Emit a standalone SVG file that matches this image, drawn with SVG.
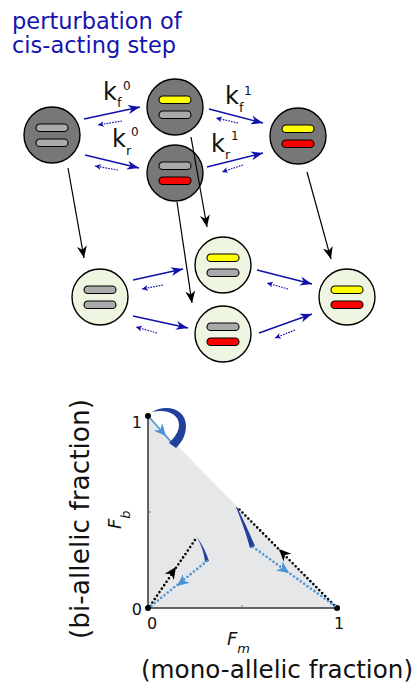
<svg xmlns="http://www.w3.org/2000/svg" width="418" height="690" viewBox="0 0 418 690">
  <style>
    .title { font-family: "DejaVu Sans", sans-serif; font-size: 22.5px; fill: #1414b0; }
    .lbl { font-family: "DejaVu Sans", sans-serif; fill: #111; }
    .dark { fill: #777777; stroke: #000; stroke-width: 1.4; }
    .light { fill: #eef6e1; stroke: #000; stroke-width: 1.4; }
    .bar { stroke: #000; stroke-width: 1.1; }
    .gray { fill: #aaaaaa; }
    .yel { fill: #ffff00; }
    .red { fill: #ff0000; }
    .fw { fill: none; stroke: #1111aa; stroke-width: 1.5; marker-end: url(#ahBlue); }
    .bk { fill: none; stroke: #1111aa; stroke-width: 1.2; stroke-dasharray: 1.6 1.2; marker-end: url(#ahBlueSmall); }
    .down { fill: none; stroke: #000; stroke-width: 1.2; marker-end: url(#ahBlack); }
    .axis { fill: none; stroke: #333; stroke-width: 1.5; }
    .dotK { fill: none; stroke: #000; stroke-width: 2.6; stroke-linecap: round; stroke-dasharray: 0 4.2; }
    .dotB { fill: none; stroke: #4a93d6; stroke-width: 2.6; stroke-linecap: round; stroke-dasharray: 0 4.2; }
    .num { font-family: "DejaVu Sans", sans-serif; font-size: 16px; fill: #111; }
  </style>
  <defs>
    <marker id="ahBlue" markerUnits="userSpaceOnUse" markerWidth="13" markerHeight="10" refX="12" refY="4.5" orient="auto">
      <path d="M0,0 L12,4.5 L0,9 L3.5,4.5 z" fill="#1111aa"/>
    </marker>
    <marker id="ahBlueSmall" markerUnits="userSpaceOnUse" markerWidth="7" markerHeight="7" refX="6" refY="3" orient="auto">
      <path d="M0,0 L6,3 L0,6 L1.8,3 z" fill="#1111aa"/>
    </marker>
    <marker id="ahBlack" markerUnits="userSpaceOnUse" markerWidth="13" markerHeight="11" refX="12" refY="5" orient="auto">
      <path d="M0,0 L12,5 L0,10 L3.5,5 z" fill="#000"/>
    </marker>
    <path id="headK" d="M0,0 L-12,-5.5 L-8.5,0 L-12,5.5 z" fill="#000"/>
    <path id="headB" d="M0,0 L-12,-5.5 L-8.5,0 L-12,5.5 z" fill="#4a93d6"/>
    <rect id="barShape" x="-16" y="0" width="32" height="7.5" rx="3.75"/>
  </defs>

  <!-- heading -->
  <text class="title" x="12" y="29">perturbation of</text>
  <text class="title" x="12" y="53">cis-acting step</text>

  <!-- states before the perturbation (dark) -->
  <g id="node-A">
    <circle class="dark" cx="52" cy="135" r="28"/>
    <use href="#barShape" class="bar gray" x="52" y="124"/>
    <use href="#barShape" class="bar gray" x="52" y="139"/>
  </g>
  <g id="node-B">
    <circle class="dark" cx="175" cy="107" r="28"/>
    <use href="#barShape" class="bar yel" x="175" y="96"/>
    <use href="#barShape" class="bar gray" x="175" y="111"/>
  </g>
  <g id="node-C">
    <circle class="dark" cx="175" cy="173" r="28"/>
    <use href="#barShape" class="bar gray" x="175" y="162"/>
    <use href="#barShape" class="bar red" x="175" y="177"/>
  </g>
  <g id="node-D">
    <circle class="dark" cx="298" cy="136" r="28"/>
    <use href="#barShape" class="bar yel" x="298" y="125"/>
    <use href="#barShape" class="bar red" x="298" y="140"/>
  </g>

  <!-- states after the perturbation (light) -->
  <g id="node-E">
    <circle class="light" cx="100" cy="297" r="28"/>
    <use href="#barShape" class="bar gray" x="100" y="286"/>
    <use href="#barShape" class="bar gray" x="100" y="301"/>
  </g>
  <g id="node-F">
    <circle class="light" cx="223" cy="265" r="28"/>
    <use href="#barShape" class="bar yel" x="223" y="254"/>
    <use href="#barShape" class="bar gray" x="223" y="269"/>
  </g>
  <g id="node-G">
    <circle class="light" cx="223" cy="334" r="28"/>
    <use href="#barShape" class="bar gray" x="223" y="323"/>
    <use href="#barShape" class="bar red" x="223" y="338"/>
  </g>
  <g id="node-H">
    <circle class="light" cx="347" cy="297" r="28"/>
    <use href="#barShape" class="bar yel" x="347" y="286"/>
    <use href="#barShape" class="bar red" x="347" y="301"/>
  </g>

  <!-- transitions -->
  <g id="connectors">
    <line class="fw" x1="84" y1="119" x2="140" y2="107"/>
    <line class="bk" x1="122" y1="121" x2="98" y2="125"/>
    <line class="fw" x1="85" y1="155" x2="139" y2="168"/>
    <line class="bk" x1="118" y1="170" x2="95" y2="166"/>
    <line class="fw" x1="209" y1="109" x2="263" y2="123"/>
    <line class="bk" x1="238" y1="123" x2="216" y2="118"/>
    <line class="fw" x1="207" y1="167" x2="263" y2="153"/>
    <line class="bk" x1="243" y1="165" x2="222" y2="172"/>

    <line class="fw" x1="133" y1="280" x2="183" y2="269"/>
    <line class="bk" x1="163" y1="285" x2="142" y2="289"/>
    <line class="fw" x1="133" y1="316" x2="188" y2="328"/>
    <line class="bk" x1="157" y1="333" x2="136" y2="327"/>
    <line class="fw" x1="257" y1="270" x2="312" y2="284"/>
    <line class="bk" x1="288" y1="289" x2="267" y2="283"/>
    <line class="fw" x1="259" y1="333" x2="312" y2="314"/>
    <line class="bk" x1="295" y1="330" x2="275" y2="338"/>

    <line class="down" x1="68" y1="168" x2="84" y2="258"/>
    <line class="down" x1="191" y1="137" x2="207" y2="227"/>
    <line class="down" x1="177" y1="202" x2="192" y2="303"/>
    <line class="down" x1="307" y1="172" x2="331" y2="259"/>
  </g>

  <!-- rate labels -->
  <g id="rate-labels" class="lbl">
    <text x="103" y="100" font-size="24">k</text>
    <text x="117" y="107" font-size="13">f</text>
    <text x="123" y="90" font-size="12">0</text>
    <text x="112" y="147" font-size="24">k</text>
    <text x="126" y="155" font-size="13">r</text>
    <text x="131" y="136" font-size="12">0</text>
    <text x="225" y="104" font-size="24">k</text>
    <text x="239" y="112" font-size="13">f</text>
    <text x="244" y="95" font-size="12">1</text>
    <text x="211" y="152" font-size="24">k</text>
    <text x="225" y="159" font-size="13">r</text>
    <text x="231" y="140" font-size="12">1</text>
  </g>

  <!-- phase plane -->
  <g id="plot">
    <polygon points="148,416 148,608 337,608" fill="#e6e7e8"/>
    <path class="axis" d="M148,416 V608 H337"/>
    <path d="M148,512 h3 M242,608 v-3" stroke="#777" stroke-width="1"/>
    <circle cx="148" cy="416" r="3" fill="#000"/>
    <circle cx="148" cy="608" r="3" fill="#000"/>
    <circle cx="337" cy="608" r="3" fill="#000"/>

    <!-- trajectory from the bi-allelic corner -->
    <line x1="150" y1="418" x2="172" y2="443" stroke="#4a93d6" stroke-width="1.6"/>
    <use href="#headB" transform="translate(166,436) rotate(48.5)"/>
    <path d="M152,412 C165,404 186,408 186,426 C186,436 181,443 176,448 L169,443 C174,438 179,432 179,425 C179,413 165,409 152,412 Z" fill="#22409a"/>

    <!-- trajectory from the mono-allelic corner -->
    <line class="dotK" x1="337" y1="608" x2="237" y2="507"/>
    <use href="#headK" transform="translate(279,549) rotate(-134.7)"/>
    <path d="M236,507 C241,520 246,533 250,548 L255,546 C249,532 243,519 237,507 Z" fill="#22409a"/>
    <line class="dotB" x1="253" y1="547" x2="335" y2="606"/>
    <use href="#headB" transform="translate(289,573) rotate(36)"/>

    <!-- trajectory from the origin -->
    <line class="dotK" x1="150" y1="606" x2="197" y2="537"/>
    <use href="#headK" transform="translate(176,567) rotate(-55.7)"/>
    <path d="M197,537 C201,545 204,552 205,562 L209,561 C206,552 202,544 197,537 Z" fill="#22409a"/>
    <line class="dotB" x1="207" y1="561" x2="151" y2="606"/>
    <use href="#headB" transform="translate(177,586) rotate(141.2)"/>

    <text class="num" x="142" y="428" text-anchor="end">1</text>
    <text class="num" x="142" y="615" text-anchor="end">0</text>
    <text class="num" x="152" y="629" text-anchor="middle">0</text>
    <text class="num" x="339" y="629" text-anchor="middle">1</text>

    <text class="lbl" x="227" y="645" font-size="18" font-style="italic">F<tspan font-size="13" dy="8">m</tspan></text>
    <text class="lbl" x="141" y="678" font-size="25" textLength="272" lengthAdjust="spacingAndGlyphs">(mono-allelic fraction)</text>

    <text class="lbl" transform="translate(121,529) rotate(-90)" font-size="18" font-style="italic">F<tspan font-size="13" dy="9">b</tspan></text>
    <text class="lbl" transform="translate(89,519) rotate(-90)" font-size="27" text-anchor="middle" textLength="240" lengthAdjust="spacingAndGlyphs">(bi-allelic fraction)</text>
  </g>
</svg>
